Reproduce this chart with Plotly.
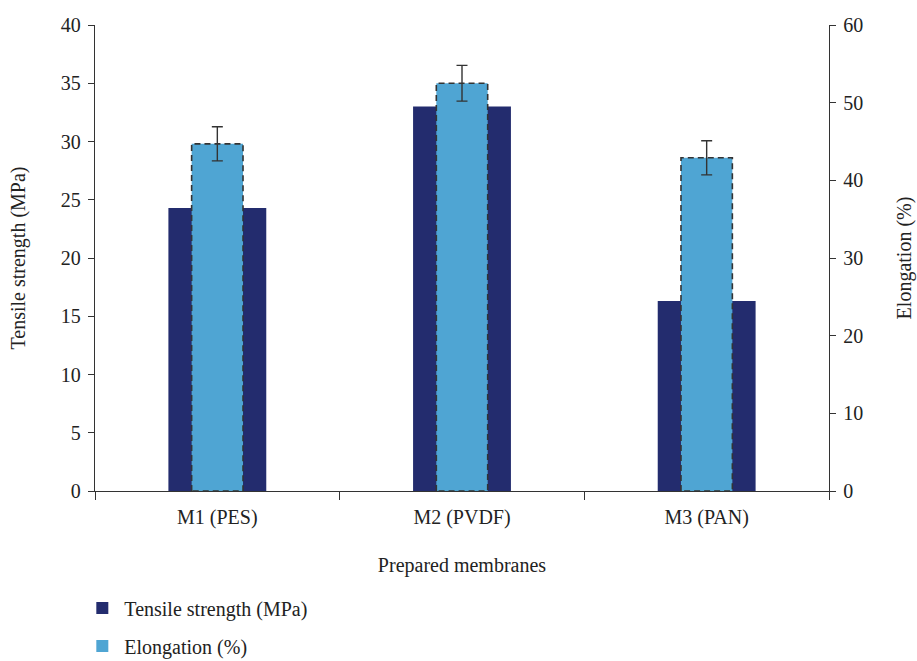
import plotly.graph_objects as go

categories = ["M1 (PES)", "M2 (PVDF)", "M3 (PAN)"]
tensile = [24.3, 33.0, 16.3]
elongation = [44.7, 52.5, 42.9]
elong_err = [2.2, 2.3, 2.2]

DARK = "#232c6e"
LIGHT = "#4fa5d3"
AX = "#333333"
FONT = "'Liberation Serif', 'DejaVu Serif', serif"
FS = 20

xs = list(range(len(categories)))
w_dark = 0.40
w_light = 0.21

fig = go.Figure()
fig.add_trace(go.Bar(x=xs, y=tensile, width=w_dark, offset=-w_dark / 2,
                     marker=dict(color=DARK, line=dict(width=0)),
                     name="Tensile strength (MPa)", yaxis="y", legendgroup="a"))
fig.add_trace(go.Bar(x=xs, y=elongation, width=w_light, offset=-w_light / 2,
                     marker=dict(color=LIGHT, line=dict(width=0)),
                     name="Elongation (%)", yaxis="y2", legendgroup="b"))

# dashed outline of elongation bars
ox, oy = [], []
for xi, v in zip(xs, elongation):
    l, r = xi - w_light / 2, xi + w_light / 2
    ox += [l, l, r, r, l, None]
    oy += [0, v, v, 0, 0, None]
fig.add_trace(go.Scatter(x=ox, y=oy, mode="lines", yaxis="y2",
                         line=dict(color=AX, width=1.6, dash="6px,4px"),
                         showlegend=False, hoverinfo="skip"))
# error bars
fig.add_trace(go.Scatter(x=xs, y=elongation, mode="markers", yaxis="y2",
                         marker=dict(size=1, color="rgba(0,0,0,0)"),
                         error_y=dict(type="data", array=elong_err, visible=True,
                                      color=AX, thickness=1.4, width=5.5),
                         showlegend=False, hoverinfo="skip"))

fig.update_layout(
    width=917, height=661,
    margin=dict(l=95, r=88, t=25, b=170, autoexpand=False),
    plot_bgcolor="white", paper_bgcolor="white",
    font=dict(family=FONT, size=FS, color="#222"),
    barmode="overlay",
    showlegend=True,
    legend=dict(orientation="v", x=-0.02, xanchor="left", y=-0.209, yanchor="top",
                font=dict(size=FS, family=FONT), tracegroupgap=9, itemwidth=34),
    xaxis=dict(range=[-0.5, 2.5], tickvals=xs, ticktext=categories, ticks="",
               showline=True, linecolor=AX, linewidth=1.3, showgrid=False, zeroline=False,
               ticklabelstandoff=8,
               minor=dict(tickvals=[-0.5, 0.5, 1.5, 2.5], ticks="outside", ticklen=8,
                          tickcolor=AX, tickwidth=1.3, showgrid=False),
               title=dict(text="Prepared membranes", standoff=29, font=dict(size=FS, family=FONT)),
               tickfont=dict(size=FS, family=FONT)),
    yaxis=dict(range=[0, 40], dtick=5, ticks="outside", ticklen=6, tickcolor=AX,
               tickwidth=1.3, showline=True, linecolor=AX, linewidth=1.3, mirror=True,
               showgrid=False, zeroline=False, ticklabelstandoff=3,
               title=dict(text="Tensile strength (MPa)", standoff=29, font=dict(size=FS, family=FONT)),
               tickfont=dict(size=FS, family=FONT)),
    yaxis2=dict(range=[0, 60], dtick=10, overlaying="y", side="right", ticks="outside",
                ticklen=6, tickcolor=AX, tickwidth=1.3, showline=True, linecolor=AX,
                linewidth=1.3, showgrid=False, zeroline=False, ticklabelstandoff=3,
                title=dict(text="Elongation (%)", standoff=34, font=dict(size=FS, family=FONT)),
                tickfont=dict(size=FS, family=FONT)),
)

fig.write_html("out.html")
